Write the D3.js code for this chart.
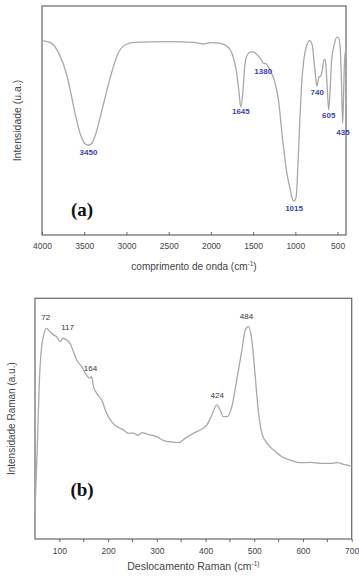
<!DOCTYPE html>
<html>
<head>
<meta charset="utf-8">
<script src="https://cdn.jsdelivr.net/npm/d3@7"></script>
<style>
  body { margin: 0; background: #fff; }
  svg { display: block; font-family: "Liberation Sans", Arial, sans-serif; }
</style>
</head>
<body>
<svg id="chart" width="359" height="576"></svg>
<script>
// FTIR spectrum (a)
const irWave = [4000, 3900, 3800, 3700, 3650, 3600, 3550, 3500, 3450, 3400, 3350, 3300, 3250, 3200, 3100, 3000, 2900, 2500, 2200, 2100, 2000, 1900, 1800, 1750, 1700, 1670, 1645, 1620, 1600, 1570, 1530, 1500, 1450, 1400, 1380, 1350, 1300, 1250, 1200, 1150, 1100, 1060, 1030, 1015, 990, 970, 950, 930, 900, 870, 830, 800, 780, 760, 745, 720, 700, 680, 660, 645, 625, 605, 590, 570, 540, 510, 490, 470, 455, 440, 430, 420, 410, 400];
const irValue = [84.9, 84, 79.3, 69, 60.4, 51.7, 44.5, 40.3, 39.2, 40.7, 45.8, 53.1, 60.4, 67.7, 79.3, 83.3, 84.1, 84.4, 84.1, 83.4, 84, 83.8, 82.2, 79.3, 72, 63.3, 55.8, 63, 73.5, 78.6, 80, 80, 78.6, 76.4, 75, 74.8, 72, 67.7, 59, 41.5, 27, 19.7, 15.3, 14.8, 16.7, 29.8, 47.3, 63.3, 76.4, 82.2, 84.9, 83, 76.4, 69.1, 65, 68.9, 69.4, 72, 76.7, 76.4, 66.2, 54.6, 61.9, 76.4, 83, 86.3, 86.3, 82.2, 69.1, 48.8, 59, 73.5, 80, 80];
const irPeaks = ["3450", "1645", "1380", "1015", "740", "605", "435"];
const irPeakPos = [[3450, 35], [1645, 53], [1380, 70.5], [1015, 10.5], [740, 61], [605, 51], [435, 43.5]];
const irTicks = [4000, 3500, 3000, 2500, 2000, 1500, 1000, 500];

// Raman spectrum (b)
const ramanShift = [50, 54.8, 59, 63.7, 67, 74, 81, 87.7, 94.5, 101, 108, 115, 122, 129, 135.6, 146, 156, 162, 166, 170, 176.7, 187, 197, 207.5, 218, 231.5, 242, 252, 262, 269, 283, 300, 313.7, 327, 344.5, 358, 375, 389, 402.7, 413, 423, 430, 437, 444, 454, 464, 474.7, 481.5, 488, 495, 502, 508.9, 515.8, 526, 539.7, 556.8, 574, 594.5, 615, 635.6, 656, 670, 683.6, 700];
const ramanValue = [12, 38.4, 66, 79.9, 84, 87.5, 86.1, 84.8, 84, 82, 83.4, 82.7, 81.3, 77.8, 74.4, 71.6, 68.1, 66.8, 67.4, 63.3, 60.5, 57.7, 52.2, 48.7, 46.7, 45.3, 43.9, 44, 43.1, 44.2, 43.4, 42.5, 40.9, 40.4, 40, 41.8, 43.9, 45.3, 47.4, 51.5, 55.7, 53.6, 50.8, 50.8, 55, 66, 78.5, 86.8, 88.2, 82.7, 67.4, 52.2, 43.9, 39.8, 37, 34.2, 32.8, 31.7, 31.8, 31.4, 31.4, 31.7, 31, 30.3];
const ramanPeaks = ["72", "117", "164", "424", "484"];
const ramanPeakPos = [[72, 91], [117, 87], [164, 70], [424, 58.5], [484, 91.5]];
const ramanTicks = [100, 200, 300, 400, 500, 600, 700];
const ramanMinor = [150, 250, 350, 450, 550, 650];

const svg = d3.select("#chart");

const drawPanel = (cfg) => {
  const x = d3.scaleLinear().domain(cfg.xDomain).range([cfg.left, cfg.right]);
  const y = d3.scaleLinear().domain([0, 100]).range([cfg.bottom, cfg.top]);
  const g = svg.append("g");

  // frame
  g.append("rect")
    .attr("x", cfg.left)
    .attr("y", cfg.top)
    .attr("width", cfg.right - cfg.left)
    .attr("height", cfg.bottom - cfg.top)
    .attr("fill", "none")
    .attr("stroke", "#666")
    .attr("stroke-width", 1.2);

  // bottom axis
  const axis = g.append("g")
    .attr("transform", `translate(0,${cfg.bottom})`)
    .call(d3.axisBottom(x).tickValues(cfg.ticks).tickSize(cfg.tickIn ? -3 : 3).tickPadding(cfg.tickIn ? 8 : 6).tickFormat(d3.format("d")));
  axis.select(".domain").remove();
  axis.selectAll("line").attr("stroke", "#666");
  axis.selectAll("text")
    .attr("fill", "#444")
    .style("font-size", "8.5px");

  if (cfg.minor) {
    g.append("g")
      .selectAll("line")
      .data(cfg.minor)
      .join("line")
      .attr("x1", (d) => x(d))
      .attr("x2", (d) => x(d))
      .attr("y1", cfg.bottom)
      .attr("y2", cfg.bottom + 3)
      .attr("stroke", "#666");
  }

  // spectrum
  const line = d3.line()
    .x((d, i) => x(cfg.xs[i]))
    .y((d) => y(d))
    .curve(d3.curveMonotoneX);
  g.append("path")
    .datum(cfg.ys)
    .attr("d", line)
    .attr("fill", "none")
    .attr("stroke", "#a8a8a8")
    .attr("stroke-width", 1.3);

  // peak labels
  g.append("g")
    .selectAll("text")
    .data(cfg.peaks)
    .join("text")
    .attr("x", (d, i) => x(cfg.peakPos[i][0]))
    .attr("y", (d, i) => y(cfg.peakPos[i][1]))
    .attr("text-anchor", "middle")
    .attr("fill", cfg.peakColor)
    .style("font-size", "8px")
    .style("font-weight", cfg.peakBold ? "bold" : "normal")
    .text((d) => d);

  // panel letter
  g.append("text")
    .attr("x", cfg.letterX)
    .attr("y", cfg.letterY)
    .attr("text-anchor", "middle")
    .style("font-family", "'Liberation Serif', 'Times New Roman', serif")
    .style("font-weight", "bold")
    .style("font-size", "19px")
    .attr("fill", "#111")
    .text(cfg.letter);

  // x title
  const xt = g.append("text")
    .attr("x", (cfg.left + cfg.right) / 2)
    .attr("y", cfg.xTitleY)
    .attr("text-anchor", "middle")
    .attr("fill", "#444")
    .style("font-size", cfg.xTitleSize);
  xt.append("tspan").text(cfg.xTitle + " (cm");
  xt.append("tspan").attr("dy", -4).style("font-size", "6.5px").text(cfg.sup);
  if (cfg.after) xt.append("tspan").attr("dy", 4).text(cfg.after);

  // y title
  g.append("text")
    .attr("transform", `translate(${cfg.yTitleX},${(cfg.top + cfg.bottom) / 2}) rotate(-90)`)
    .attr("text-anchor", "middle")
    .attr("fill", "#444")
    .style("font-size", cfg.yTitleSize)
    .text(cfg.yTitle);
};

drawPanel({
  xDomain: [4000, 400], left: 42, right: 346, top: 6, bottom: 235,
  xs: irWave, ys: irValue, ticks: irTicks, tickIn: true,
  peaks: irPeaks, peakPos: irPeakPos, peakColor: "#3b46a8", peakBold: true,
  letter: "(a)", letterX: 82, letterY: 216,
  xTitle: "comprimento de onda", sup: "-1", after: ")", xTitleY: 270, xTitleSize: "10px",
  yTitle: "Intensidade (u.a.)", yTitleX: 21, yTitleSize: "10.5px"
});

drawPanel({
  xDomain: [50, 700], left: 35, right: 351.7, top: 298.3, bottom: 539,
  xs: ramanShift, ys: ramanValue, ticks: ramanTicks, tickIn: false, minor: ramanMinor,
  peaks: ramanPeaks, peakPos: ramanPeakPos, peakColor: "#333", peakBold: false,
  letter: "(b)", letterX: 82, letterY: 496,
  xTitle: "Deslocamento Raman", sup: "-1)", after: null, xTitleY: 570, xTitleSize: "10.5px",
  yTitle: "Intensidade Raman (a.u.)", yTitleX: 15, yTitleSize: "10px"
});
</script>
</body>
</html>
